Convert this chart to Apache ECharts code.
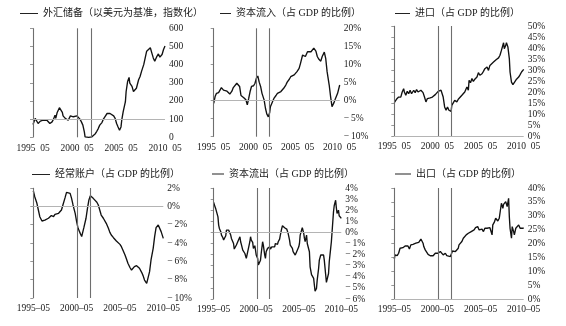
<!DOCTYPE html>
<html><head><meta charset="utf-8">
<script src="https://cdn.jsdelivr.net/npm/echarts@6/dist/echarts.min.js"></script>
<style>html,body{margin:0;padding:0;background:#fff}#c{width:566px;height:326px}</style>
</head><body><div id="c"></div>
<script>
// x positions are months since 1995-05 (0 = 1995-05, 180 = 2010-05)
const xLabelsTop = ['1995  05', '2000  05', '2005  05', '2010  05'];
const xLabelsBottom = ['1995\u201305', '2000\u201305', '2005\u201305', '2010\u201305'];
const eventMonths = [0, 61, 79];

const seriesNames = [
  '外汇储备（以美元为基准，指数化）',
  '资本流入（占 GDP 的比例）',
  '进口（占 GDP 的比例）',
  '经常账户（占 GDP 的比例）',
  '资本流出（占 GDP 的比例）',
  '出口（占 GDP 的比例）'
];

// 外汇储备 (index)
const fxT = [0,3,5,7,10,12,14,16,19,21,23,26,28,30,31,33,36,38,40,41,44,46,48,51,53,55,57,60,62,64,66,68,70,71,73,76,78,80,82,85,87,89,91,94,96,98,101,103,105,107,110,112,114,116,118,120,121,123,126,127,129,131,132,135,137,139,141,144,146,148,151,153,155,157,160,162,164,166,169,171,173,176,178,180];
const fxV = [70,104,113,76,89,85,94,104,94,85,76,85,100,122,104,137,163,174,137,118,104,107,94,118,126,113,104,118,107,100,85,67,30,2,11,0,7,2,11,20,33,48,67,81,100,113,131,137,131,137,118,104,76,57,39,57,94,141,196,252,307,330,298,280,252,243,270,317,335,363,400,437,474,465,493,465,437,419,446,459,441,456,483,502];

// 资本流入 (% of GDP)
const inT = [0,2,4,7,9,11,14,16,19,21,23,26,28,30,33,35,37,39,41,43,46,48,50,52,54,57,59,61,63,65,67,69,72,74,76,78,80,81,84,86,89,91,93,96,98,100,103,105,108,110,112,115,117,119,122,124,127,129,131,134,136,139,141,143,146,148,150,153,155,158,160,162,165,167,169,172,174,177,180];
const inV = [-0.8,1.1,2.0,2.2,2.5,3.6,2.9,2.9,2.6,2.5,1.8,2.6,3.6,4.0,4.8,5.1,3.9,1.4,1.0,0.8,0.2,-1.2,0.6,2.5,3.9,4.1,4.8,6.2,6.8,5.1,3.9,2.0,0.2,-2.2,-3.8,-4.5,-3.3,-1.7,-0.3,0.6,1.4,2.0,1.5,2.5,2.9,3.4,4.3,5.1,5.9,6.6,7.1,7.1,7.5,8.0,8.9,10.3,12.6,13.1,12.2,13.5,13.7,13.5,14.0,14.5,13.7,12.2,11.5,10.9,12.2,13.4,11.7,8.0,4.3,1.1,-1.7,-0.5,0.6,2.0,4.3];

// 进口 (% of GDP)
const imT = [0,1,3,6,7,9,11,13,14,16,18,20,22,24,26,27,29,31,33,35,37,39,40,42,44,46,48,50,52,53,55,57,59,61,63,65,66,68,70,72,74,76,78,79,80,82,84,87,89,91,94,96,98,101,103,104,106,108,110,112,115,117,119,122,124,126,129,131,133,135,138,140,142,145,147,149,152,153,155,156,158,160,161,163,165,167,168,170,173,175,177,180];
const imV = [15.2,15.8,16.7,17.7,18.2,17.7,20,21.5,20,18.5,20.3,19.2,20.8,19.2,20,20.8,19.7,21.1,20,20.8,20.8,21.2,19.7,17.7,15.5,17,16.2,17.3,16.7,17.7,17.3,18.8,19.2,20.3,19.7,20.8,20.3,17.7,13.2,11.7,13.2,11.7,12.4,11.2,13.9,14.7,16.2,15.5,16.7,17.3,18.5,19.2,20,22.3,20.8,25.3,24.2,26.1,24.8,25.8,26.8,28.8,27.6,28.3,29.4,30.6,31.4,29.8,32.1,32.9,33.6,34.4,34.8,35.5,36.7,38.9,42.4,39.7,41.2,42.4,40.5,35.2,29.1,24.5,23.3,22.7,24.8,25.8,26.8,27.9,29.1,30.3];

// 经常账户 (% of GDP)
const caT = [0,2,5,7,9,12,14,16,18,21,23,25,28,30,32,35,37,39,41,44,46,48,51,53,55,58,60,62,65,67,68,70,73,75,77,79,81,83,85,88,90,92,94,97,99,101,104,106,108,111,113,115,117,120,122,124,127,129,131,134,136,138,140,143,145,147,150,152,154,157,159,161,163,166,168,170,173,175,177,180];
const caV = [1.7,1.05,0.33,-0.4,-1.13,-1.6,-1.75,-1.5,-1.3,-1.3,-1.13,-1.0,-1.13,-0.87,-0.87,-0.76,-0.65,-0.4,0.15,0.95,1.53,1.6,1.42,0.87,0.15,-0.76,-1.67,-2.4,-2.95,-3.3,-3.1,-2.33,-1.3,-0.22,0.7,1.16,1.05,0.87,0.7,0.44,0.15,-0.4,-0.95,-1.3,-1.5,-1.85,-2.4,-2.84,-3.13,-3.42,-3.6,-3.78,-3.93,-4.15,-4.4,-4.76,-5.3,-5.75,-6.2,-6.7,-6.95,-6.84,-6.58,-6.47,-6.58,-6.76,-7.2,-7.56,-8.04,-8.4,-8.2,-7.13,-5.85,-4.58,-3.3,-2.33,-2.04,-2.22,-2.76,-3.5];

// 资本流出 (% of GDP)
const outT = [0,1,3,4,6,7,8,10,11,13,14,15,17,18,20,21,22,24,25,27,28,29,31,32,34,35,37,38,39,41,42,44,45,46,48,49,51,52,53,55,56,58,59,60,62,63,65,66,67,69,70,72,73,74,76,77,79,80,82,83,84,86,87,89,90,91,93,94,96,97,98,100,101,103,104,105,107,108,110,111,112,114,115,117,118,120,121,122,124,125,127,128,129,131,132,134,135,136,138,139,141,142,143,145,146,148,149,151,152,153,155,156,158,159,160,162,163,165,166,167,169,170,172,173,174,176,177,179,180];
const outV = [2.7,2.46,2.1,2.0,1.4,0.66,0.36,0.06,-0.24,-0.48,-0.69,-0.69,-0.3,0.21,0.27,0.21,0.06,-0.24,-0.54,-0.69,-1.0,-1.5,-1.6,-1.14,-1.3,-0.69,-0.39,-0.84,-1.08,-1.6,-1.44,-1.9,-2.04,-2.34,-1.74,-1.44,-0.84,-0.39,-0.69,-0.9,-1.44,-1.2,-1.6,-2.04,-2.34,-2.94,-2.88,-2.5,-1.9,-0.84,-1.14,-2.04,-2.34,-1.74,-1.44,-1.6,-1.3,-1.5,-1.3,-1.44,-1.14,-1.3,-1.0,-1.14,-1.08,-0.84,-0.6,-0.24,0.36,0.6,0.51,0.42,0.51,0.3,0.42,-0.09,-0.69,-1.14,-1.3,-1.44,-1.74,-1.9,-2.04,-1.74,-1.9,-1.3,-1.0,-0.24,0.21,0.42,-0.09,-0.54,-0.84,-0.24,-1.0,-1.14,-1.74,-3.1,-3.8,-3.84,-4.14,-4.74,-5.3,-5.04,-4.3,-3.24,-2.5,-2.04,-2.2,-2.0,-2.04,-2.5,-3.84,-4.5,-4.44,-3.7,-2.64,-1.44,-0.84,0.06,1.86,2.4,2.9,2.22,1.71,2.0,1.5,1.32,1.26];

// 出口 (% of GDP)
const exT = [0,1,2,4,6,8,10,12,14,15,17,19,21,23,25,26,28,30,32,34,36,37,39,40,41,43,45,47,50,52,54,57,59,61,64,66,68,71,73,75,78,79,81,83,85,87,89,90,92,94,96,98,100,102,103,105,107,109,111,113,115,116,118,120,122,124,126,128,129,131,133,135,136,137,139,141,142,144,146,148,149,151,152,154,155,157,159,160,161,163,164,166,167,169,171,173,175,177,179,180];
const exV = [14.4,15.9,15.3,15.6,16.5,18.3,18.9,18.5,18.9,19.1,18.5,19.1,18.0,19.5,18.9,19.7,19.2,20.1,19.7,20.4,20.1,21.6,20.9,20.1,18.9,17.7,17.1,16.1,15.6,15.9,15.6,16.5,16.8,16.5,17.1,16.5,15.9,16.5,15.6,15.9,15.3,15.9,17.3,17.7,17.1,16.7,18.3,19.5,20.1,20.7,21.9,21.6,23.1,22.5,23.7,23.1,24.3,23.7,24.9,25.7,25.2,26.1,24.9,24.5,25.2,24.3,25.5,24.9,25.5,26.1,25.7,26.1,23.1,26.7,27.6,29.1,28.5,28.1,29.1,29.3,34.5,32.7,34.1,33.6,35.1,33.3,36.3,29.7,25.5,21.9,26.1,24.3,23.1,25.5,26.1,26.7,25.5,26.1,25.5,25.7];

// y-axis scales
const yMin = [0, -10, 0, -10, -6, 0];
const yMax = [600, 20, 50, 2, 4, 40];
const yStep = [100, 5, 5, 2, 1, 5];
const baseLine = [100, 0, 0, 0, 0, 0];

const seriesT = [fxT, inT, imT, caT, outT, exT];
const seriesV = [fxV, inV, imV, caV, outV, exV];

const grids = [
  {left: 33, top: 28.3, width: 132, height: 109},
  {left: 213.7, top: 28.3, width: 126, height: 108.4},
  {left: 394.3, top: 26, width: 129.4, height: 110},
  {left: 33.3, top: 188, width: 130, height: 110},
  {left: 213.7, top: 188, width: 127.6, height: 111},
  {left: 394.3, top: 188, width: 129.4, height: 111}
];
const legendPos = [
  {left: 20, top: 8.5, w: 18},
  {left: 220, top: 8.5, w: 11},
  {left: 395, top: 8.5, w: 15},
  {left: 32, top: 169.5, w: 18},
  {left: 212, top: 169, w: 12},
  {left: 395, top: 169, w: 16}
];

const FONT = "'Liberation Serif', 'Noto Sans CJK SC', serif";
const chart = echarts.init(document.getElementById('c'), null, {renderer: 'canvas'});

function yFmt(i) {
  return function (v) {
    if (i === 0) return String(v);
    if (v < 0) return '\u2212\u2009' + Math.abs(v) + '%';
    return v + '%';
  };
}

const option = {
  backgroundColor: '#ffffff',
  animation: false,
  grid: grids.map(g => Object.assign({containLabel: false}, g)),
  legend: seriesNames.map((n, i) => ({
    data: [{name: n, icon: 'rect'}],
    left: legendPos[i].left, top: legendPos[i].top,
    itemWidth: legendPos[i].w, itemHeight: 1,
    itemStyle: {color: '#222'},
    padding: 0, selectedMode: false,
    textStyle: {fontSize: 10, fontFamily: FONT, color: '#1a1a1a'}
  })),
  xAxis: grids.map((g, i) => ({
    type: 'value', gridIndex: i, min: 0, max: 180, interval: 60,
    axisLine: {show: false}, axisTick: {show: false}, splitLine: {show: false},
    axisLabel: {
      fontSize: 9.5, fontFamily: FONT, color: '#1a1a1a', margin: 6,
      showMinLabel: true, showMaxLabel: true,
      formatter: v => (i < 3 ? xLabelsTop : xLabelsBottom)[Math.round(v / 60)]
    }
  })),
  yAxis: grids.map((g, i) => ({
    type: 'value', gridIndex: i, position: 'right',
    min: yMin[i], max: yMax[i], interval: yStep[i],
    axisLine: {show: true, lineStyle: {color: '#c8c8c8', width: 1}},
    axisTick: {show: true, inside: true, length: 3, lineStyle: {color: '#999'}},
    splitLine: {show: false},
    axisLabel: {fontSize: 9.5, fontFamily: FONT, color: '#1a1a1a', margin: 4, formatter: yFmt(i)}
  })),
  series: seriesNames.map((n, i) => ({
    name: n, type: 'line', xAxisIndex: i, yAxisIndex: i,
    data: seriesT[i].map((t, k) => [t, seriesV[i][k]]),
    showSymbol: false, symbol: 'none', color: '#111',
    lineStyle: {color: '#111', width: 1.35},
    markLine: {
      silent: true, symbol: ['none', 'none'], label: {show: false},
      lineStyle: {color: '#6e6e6e', width: 1.1, type: 'solid'},
      data: eventMonths.map(m => ({xAxis: m}))
        .concat([{yAxis: baseLine[i], lineStyle: {color: '#b4b4b4', width: 1, type: 'solid'}}])
    }
  }))
};
chart.setOption(option);
</script></body></html>
